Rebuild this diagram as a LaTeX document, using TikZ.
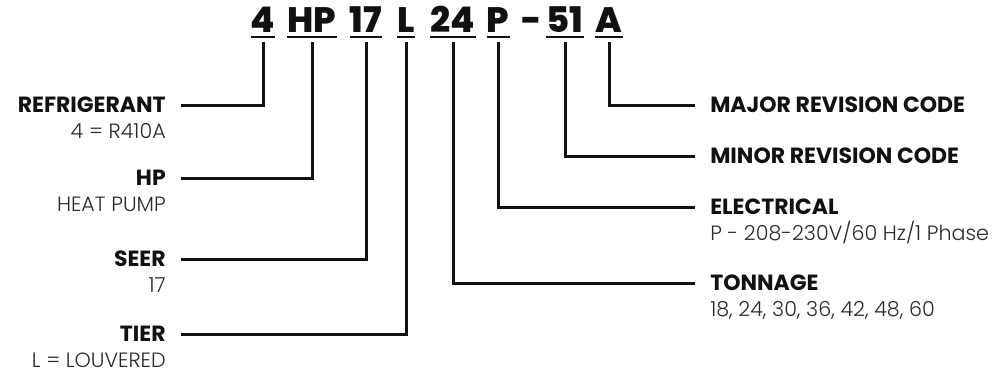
\documentclass[tikz,border=0pt]{standalone}
\usepackage{fontspec}
\setmainfont{Poppins}[UprightFont=* Light, BoldFont=* Bold]
\newfontfamily\codefont{Poppins}[UprightFont=* ExtraBold]
\usetikzlibrary{positioning}
\definecolor{ink}{HTML}{111111}
\definecolor{subgray}{HTML}{2A2A2A}

\begin{document}
\begin{tikzpicture}[x=0.75pt,y=-0.75pt,
  code/.style={font=\codefont\fontsize{26.5pt}{28pt}\selectfont,inner sep=0pt,text height=18.5pt,text depth=0pt,anchor=south,color=ink},
  ttl/.style={font=\fontsize{16.5pt}{18pt}\selectfont\bfseries,inner sep=0pt,text height=11.5pt,text depth=0pt,color=ink},
  sub/.style={font=\fontsize{15.5pt}{17pt}\selectfont,inner sep=0pt,color=subgray},
  uline/.style={line width=1.9pt,color=ink},
  lead/.style={line width=2.25pt,color=ink,shorten >=11.25pt}
]
  \useasboundingbox (0,0) rectangle (998,375);
  % model number
  \node[code] (cref) at (263,33) {4};
  \node[code] (chp) at (312,33) {HP};
  \node[code] (cseer) at (366,33) {17};
  \node[code] (ctier) at (406,33) {L};
  \node[code] (cton) at (453,33) {24};
  \node[code] (celec) at (498,33) {P};
  \node[code] (cdash) at (532,33) {-};
  \node[code] (cminor) at (565,33) {51};
  \node[code] (cmajor) at (609,33) {A};
  \foreach \c in {cref,chp,cseer,ctier,cton,celec,cminor,cmajor}
    \draw[uline] ([yshift=-3pt]\c.south west) -- ([yshift=-3pt]\c.south east);
  % left labels
  \node[ttl,anchor=east] (refr) at (166,105) {REFRIGERANT};
  \node[sub,anchor=base east] (refrsub) at (166,138) {4 = R410A};
  \node[ttl,anchor=east] (hp) at (166,178) {HP};
  \node[sub,anchor=base east] (hpsub) at (166,211) {HEAT PUMP};
  \node[ttl,anchor=east] (seer) at (166,259) {SEER};
  \node[sub,anchor=base east] (seersub) at (166,292) {17};
  \node[ttl,anchor=east] (tier) at (166,334) {TIER};
  \node[sub,anchor=base east] (tiersub) at (166,367) {L = LOUVERED};
  % right labels
  \node[ttl,anchor=west] (major) at (710,105) {MAJOR REVISION CODE};
  \node[ttl,anchor=west] (minor) at (710,156) {MINOR REVISION CODE};
  \node[ttl,anchor=west] (elec) at (710,207) {ELECTRICAL};
  \node[sub,anchor=base west] (elecsub) at (710,240) {P - 208-230V/60 Hz/1 Phase};
  \node[ttl,anchor=west] (ton) at (710,283) {TONNAGE};
  \node[sub,anchor=base west] (tonsub) at (710,316) {18, 24, 30, 36, 42, 48, 60};
  % leads
  \draw[lead] ([yshift=-6.75pt]cref.south) |- (refr.east);
  \draw[lead] ([yshift=-6.75pt]chp.south) |- (hp.east);
  \draw[lead] ([yshift=-6.75pt]cseer.south) |- (seer.east);
  \draw[lead] ([yshift=-6.75pt]ctier.south) |- (tier.east);
  \draw[lead] ([yshift=-6.75pt]cton.south) |- (ton.west);
  \draw[lead] ([yshift=-6.75pt]celec.south) |- (elec.west);
  \draw[lead] ([yshift=-6.75pt]cminor.south) |- (minor.west);
  \draw[lead] ([yshift=-6.75pt]cmajor.south) |- (major.west);
\end{tikzpicture}
\end{document}
